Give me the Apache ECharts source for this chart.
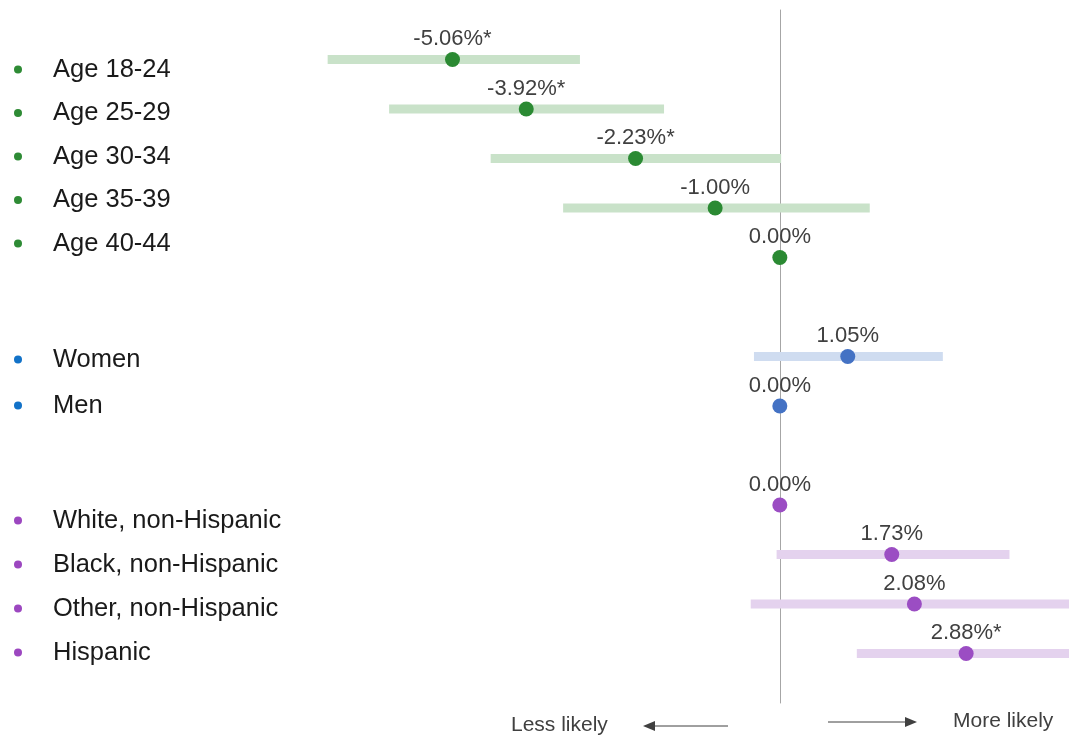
<!DOCTYPE html>
<html>
<head>
<meta charset="utf-8">
<style>html,body{margin:0;padding:0;background:#fff}#c{width:1069px;height:740px}</style>
<script src="https://cdn.jsdelivr.net/npm/echarts@6/dist/echarts.min.js"></script>
</head>
<body>
<div id="c"></div>
<script>
// Row layout (blank entries are gaps between groups)
var rowCategories = ['Age 18-24','Age 25-29','Age 30-34','Age 35-39','Age 40-44','',
  'Women','Men','',
  'White, non-Hispanic','Black, non-Hispanic','Other, non-Hispanic','Hispanic'];

var ageLabels = ['Age 18-24','Age 25-29','Age 30-34','Age 35-39','Age 40-44'];
var ageValues = [-5.06, -3.92, -2.23, -1.00, 0.00];
var ageLow    = [-6.99, -6.04, -4.47, -3.35, null];
var ageHigh   = [-3.09, -1.79, 0.02, 1.39, null];
var ageSig    = [true, true, true, false, false];

var sexLabels = ['Women','Men'];
var sexValues = [1.05, 0.00];
var sexLow    = [-0.40, null];
var sexHigh   = [2.52, null];
var sexSig    = [false, false];

var raceLabels = ['White, non-Hispanic','Black, non-Hispanic','Other, non-Hispanic','Hispanic'];
var raceValues = [0.00, 1.73, 2.08, 2.88];
var raceLow    = [null, -0.05, -0.45, 1.19];
var raceHigh   = [null, 3.55, 4.47, 4.47];
var raceSig    = [false, false, false, true];

var xMin = -7, xMax = 4.47;
var FONT = "'Liberation Sans', Arial, sans-serif";

var groups = [
  {labels: ageLabels, values: ageValues, low: ageLow, high: ageHigh, sig: ageSig,
   dot: '#2b8a33', bar: '#c9e2c9', legendDot: '#2e8b35'},
  {labels: sexLabels, values: sexValues, low: sexLow, high: sexHigh, sig: sexSig,
   dot: '#4472c4', bar: '#cfdcf0', legendDot: '#1272c8'},
  {labels: raceLabels, values: raceValues, low: raceLow, high: raceHigh, sig: raceSig,
   dot: '#9b4dc3', bar: '#e4d2ee', legendDot: '#9c47c0'}
];

var series = [];
groups.forEach(function (g) {
  var barData = [];
  g.labels.forEach(function (lab, i) {
    if (g.low[i] !== null) barData.push([g.low[i], g.high[i], rowCategories.indexOf(lab)]);
  });
  series.push({
    type: 'custom',
    silent: true,
    z: 1,
    clip: true,
    data: barData,
    encode: {x: [0, 1], y: 2},
    renderItem: function (params, api) {
      var p1 = api.coord([api.value(0), api.value(2)]);
      var p2 = api.coord([api.value(1), api.value(2)]);
      var h = 9;
      return {
        type: 'rect',
        shape: {x: p1[0], y: p1[1] - h / 2, width: p2[0] - p1[0], height: h},
        style: {fill: g.bar}
      };
    }
  });
  g.labels.forEach(function (lab, i) {
    series.push({
      type: 'scatter',
      name: lab,
      z: 3,
      symbol: 'circle',
      symbolSize: 15,
      itemStyle: {color: g.dot, opacity: 1},
      data: [[g.values[i], rowCategories.indexOf(lab)]],
      label: {
        show: true,
        position: 'top',
        distance: 2,
        fontFamily: FONT,
        fontSize: 22,
        color: '#404040',
        opacity: 1,
        formatter: function () { return g.values[i].toFixed(2) + '%' + (g.sig[i] ? '*' : ''); }
      }
    });
  });
});

function makeLegend(g, top, gap) {
  return {
    orient: 'vertical',
    left: 9,
    top: top,
    itemGap: gap,
    itemWidth: 8,
    itemHeight: 8,
    selectedMode: false,
    icon: 'circle',
    data: g.labels.map(function (l) { return {name: l, itemStyle: {color: g.legendDot, opacity: 1}}; }),
    textStyle: {
      fontFamily: FONT,
      fontSize: 25.5,
      lineHeight: 25,
      color: '#1a1a1a',
      padding: [0, 0, 0, 26]
    }
  };
}

var chart = echarts.init(document.getElementById('c'));
chart.setOption({
  animation: false,
  backgroundColor: '#ffffff',
  grid: {left: 327, right: 0, top: 10, bottom: 37},
  xAxis: {type: 'value', min: xMin, max: xMax, show: false},
  yAxis: {
    type: 'value', min: -1, max: 13, inverse: true,
    axisLine: {show: true, onZero: true, lineStyle: {color: '#a6a6a6', width: 1}},
    axisTick: {show: false},
    axisLabel: {show: false},
    splitLine: {show: false}
  },
  legend: [
    makeLegend(groups[0], 51.5, 17.5),
    makeLegend(groups[1], 341.5, 20),
    makeLegend(groups[2], 502.5, 18)
  ],
  graphic: [
    {type: 'text', left: 511, top: 715, style: {text: 'Less likely', fontFamily: FONT, fontSize: 21, fill: '#404040'}},
    {type: 'text', left: 953, top: 711, style: {text: 'More likely', fontFamily: FONT, fontSize: 21, fill: '#404040'}},
    {type: 'line', shape: {x1: 728, y1: 726, x2: 652, y2: 726}, style: {stroke: '#404040', lineWidth: 1}},
    {type: 'polygon', shape: {points: [[643, 726], [655, 721], [655, 731]]}, style: {fill: '#404040'}},
    {type: 'line', shape: {x1: 828, y1: 722, x2: 908, y2: 722}, style: {stroke: '#404040', lineWidth: 1}},
    {type: 'polygon', shape: {points: [[917, 722], [905, 717], [905, 727]]}, style: {fill: '#404040'}}
  ],
  series: series
});
</script>
</body>
</html>
